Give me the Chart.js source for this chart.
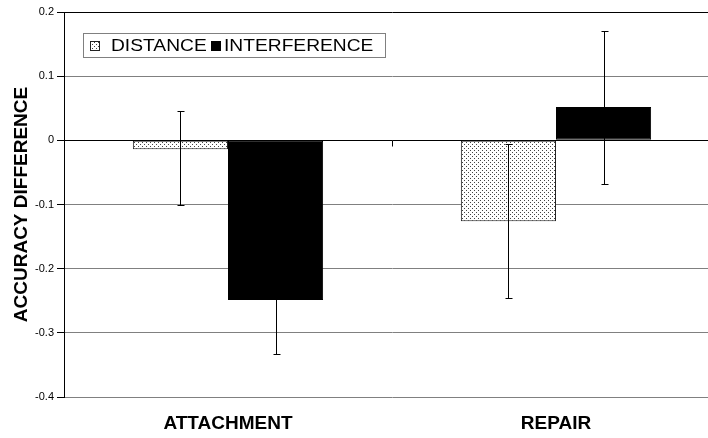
<!DOCTYPE html>
<html>
<head>
<meta charset="utf-8">
<script src="https://cdn.jsdelivr.net/npm/chart.js@4.4.0/dist/chart.umd.min.js"></script>
<style>
html, body { margin: 0; padding: 0; overflow: hidden; background: #fff; width: 708px; height: 438px; }
</style>
</head>
<body>
<canvas id="myChart" width="720" height="438"></canvas>
<script>
var categories = ['ATTACHMENT', 'REPAIR'];
var distance = [-0.014, -0.126];
var interference = [-0.249, 0.052];
var distanceLow = [-0.100, -0.245];
var distanceHigh = [0.046, -0.006];
var interferenceLow = [-0.333, -0.068];
var interferenceHigh = [-0.165, 0.171];
var yTicks = [0.2, 0.1, 0, -0.1, -0.2, -0.3, -0.4];

var FONT = "Arial, 'Liberation Sans', sans-serif";
var ctx = document.getElementById('myChart').getContext('2d');

// dotted fill like the old Excel pattern
var tile = document.createElement('canvas');
tile.width = 4; tile.height = 4;
var t = tile.getContext('2d');
t.fillStyle = '#fff'; t.fillRect(0, 0, 4, 4);
t.fillStyle = '#444'; t.fillRect(0, 0, 1, 1); t.fillRect(2, 2, 1, 1);
var dots = ctx.createPattern(tile, 'repeat');

// text in the original is a bit wider than Arial, stretch it
function wideText(c, txt, x, y) {
    c.save();
    c.translate(x, y);
    c.scale(1.13, 1);
    c.fillText(txt, 0, 0);
    c.restore();
}

var errorBars = {
    id: 'errorBars',
    afterDatasetsDraw: function(chart) {
        var c = chart.ctx, y = chart.scales.y;
        var lows = [distanceLow, interferenceLow];
        var highs = [distanceHigh, interferenceHigh];
        c.save();
        c.strokeStyle = '#000';
        c.lineWidth = 1;
        chart.data.datasets.forEach(function(ds, i) {
            chart.getDatasetMeta(i).data.forEach(function(bar, j) {
                var x = Math.round(bar.x) + 0.5;
                var y1 = Math.round(y.getPixelForValue(highs[i][j])) + 0.5;
                var y2 = Math.round(y.getPixelForValue(lows[i][j])) + 0.5;
                c.beginPath();
                c.moveTo(x, y1); c.lineTo(x, y2);
                c.moveTo(x - 3, y1); c.lineTo(x + 4, y1);
                c.moveTo(x - 3, y2); c.lineTo(x + 4, y2);
                c.stroke();
            });
        });
        c.restore();
    },
    afterDraw: function(chart) {
        var c = chart.ctx;
        var xs = chart.scales.x, y0 = Math.round(chart.scales.y.getPixelForValue(0)) + 0.5;
        var mid = Math.round((xs.getPixelForValue(0) + xs.getPixelForValue(1)) / 2) + 0.5;
        c.save();
        c.strokeStyle = '#000';
        c.beginPath(); c.moveTo(mid, y0); c.lineTo(mid, y0 + 6); c.stroke();

        // legend box
        c.fillStyle = '#fff';
        c.fillRect(83.5, 33.5, 302, 24);
        c.strokeStyle = '#808080';
        c.strokeRect(83.5, 33.5, 302, 24);
        c.fillStyle = dots;
        c.fillRect(90, 41, 10, 10);
        c.strokeStyle = '#222';
        c.strokeRect(90.5, 41.5, 9, 9);
        c.fillStyle = '#000';
        c.fillRect(211, 41, 10, 10);
        c.font = '17px ' + FONT;
        c.textBaseline = 'middle';
        wideText(c, 'DISTANCE', 111, 46);
        wideText(c, 'INTERFERENCE', 224, 46);
        c.restore();
    }
};

var myChart = new Chart(ctx, {
    type: 'bar',
    data: {
        labels: categories,
        datasets: [{
            label: 'DISTANCE',
            data: distance,
            backgroundColor: dots,
            borderColor: '#222',
            borderWidth: 1,
            borderSkipped: false,
            categoryPercentage: 0.58,
            barPercentage: 1.0
        },
        {
            label: 'INTERFERENCE',
            data: interference,
            backgroundColor: '#000',
            borderColor: '#000',
            borderWidth: 1,
            borderSkipped: false,
            categoryPercentage: 0.58,
            barPercentage: 1.0
        }]
    },
    options: {
        responsive: false,
        animation: false,
        devicePixelRatio: 1,
        layout: { padding: { top: 12, left: 0, right: 0, bottom: 0 } },
        plugins: {
            legend: { display: false },
            tooltip: { enabled: false }
        },
        scales: {
            x: {
                grid: { display: false, drawTicks: false },
                border: { display: false },
                ticks: {
                    color: '#000',
                    padding: 15,
                    font: { family: FONT, size: 19, weight: 'bold' }
                },
                afterFit: function(s) { s.height = 41; }
            },
            y: {
                min: -0.4,
                max: 0.2,
                afterBuildTicks: function(s) {
                    s.ticks = yTicks.map(function(v) { return { value: v }; });
                },
                ticks: {
                    color: '#000',
                    padding: 3,
                    font: { family: FONT, size: 11 },
                    callback: function(v) { return v === 0 ? '0' : (+v).toFixed(1); }
                },
                grid: {
                    color: function(c) {
                        var v = c.tick ? c.tick.value : null;
                        return (v === 0 || v === 0.2) ? '#000' : '#808080';
                    },
                    tickColor: '#000',
                    tickLength: 7
                },
                border: { color: '#000' },
                title: {
                    display: true,
                    text: 'ACCURACY DIFFERENCE',
                    color: '#000',
                    font: { family: FONT, size: 19, weight: 'bold' },
                    padding: { top: 10, bottom: 0 }
                },
                afterFit: function(s) { s.width = 64; }
            }
        }
    },
    plugins: [errorBars]
});
</script>
</body>
</html>
